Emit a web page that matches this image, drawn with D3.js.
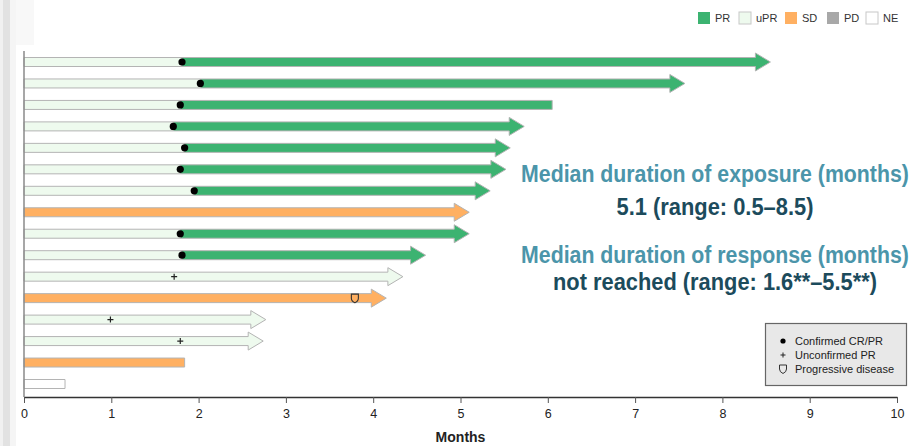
<!DOCTYPE html>
<html>
<head>
<meta charset="utf-8">
<script src="https://cdn.jsdelivr.net/npm/d3@7"></script>
<style>
  html, body { margin: 0; padding: 0; background: #fff; }
  svg { display: block; }
  .narrow { font-family: "Liberation Sans Narrow", "Arial Narrow", "Liberation Sans", Arial, sans-serif; }
</style>
</head>
<body>
<svg id="chart" width="918" height="446"></svg>
<script>
// Patient-level swimmer data (one row per patient, top to bottom)
const patients   = d3.range(1, 17);
const bestResp   = ["PR","PR","PR","PR","PR","PR","PR","SD","PR","PR","uPR","SD","uPR","uPR","SD","NE"];
const exposure   = [8.55, 7.57, 6.05, 5.73, 5.57, 5.52, 5.34, 5.10, 5.10, 4.60, 4.34, 4.15, 2.77, 2.74, 1.84, 0.47];
const ongoing    = [true, true, false, true, true, true, true, true, true, true, true, true, true, true, false, false];
const respOnset  = [1.81, 2.02, 1.79, 1.71, 1.84, 1.79, 1.95, null, 1.79, 1.81, 1.72, null, 0.99, 1.79, null, null];
const pdTime     = [null, null, null, null, null, null, null, null, null, null, null, 3.79, null, null, null, null];

const monthTicks = [0, 1, 2, 3, 4, 5, 6, 7, 8, 9, 10];
const legendKeys = ["PR", "uPR", "SD", "PD", "NE"];
const legendColors = ["#3cb371", "#eefaee", "#ffb062", "#a8a8a8", "#ffffff"];
const markerLabels = ["Confirmed CR/PR", "Unconfirmed PR", "Progressive disease"];

const fillOf = k => legendColors[legendKeys.indexOf(k)];

const svg = d3.select("#chart");

// light frame strip on the left edge
svg.append("rect").attr("x", 0).attr("y", 0).attr("width", 3).attr("height", 446).attr("fill", "#f1f1f1");
svg.append("rect").attr("x", 3).attr("y", 0).attr("width", 7).attr("height", 446).attr("fill", "#e2e2e2");
svg.append("rect").attr("x", 10).attr("y", 0).attr("width", 6).attr("height", 446).attr("fill", "#f5f5f5");
svg.append("rect").attr("x", 16).attr("y", 0).attr("width", 18).attr("height", 45).attr("fill", "#f8f8f8");

const x = d3.scaleLinear().domain([0, 10]).range([24, 897]);
const y = d3.scalePoint().domain(patients).range([62, 384]);

const bodyH = 4.5, headH = 9, headL = 15;

function barPath(x0, x1, yc, head) {
  if (!head) {
    return `M${x0},${yc - bodyH}H${x1}V${yc + bodyH}H${x0}Z`;
  }
  const xb = x1 - headL;
  return `M${x0},${yc - bodyH}H${xb}V${yc - headH}L${x1},${yc}L${xb},${yc + headH}V${yc + bodyH}H${x0}Z`;
}

const rows = patients.map((p, i) => ({
  p, resp: bestResp[i], end: exposure[i], ongoing: ongoing[i],
  onset: respOnset[i], pd: pdTime[i]
}));

const bars = svg.append("g");

rows.forEach(r => {
  const yc = y(r.p);
  const x0 = x(0), x1 = x(r.end);
  if (r.resp === "PR") {
    // unconfirmed period before confirmation, then the confirmed response
    bars.append("path")
      .attr("d", barPath(x0, x(r.onset), yc, false))
      .attr("fill", fillOf("uPR")).attr("stroke", "#b4b4b4").attr("stroke-width", 1);
    bars.append("path")
      .attr("d", barPath(x(r.onset), x1, yc, r.ongoing))
      .attr("fill", fillOf("PR")).attr("stroke", "#b4b4b4").attr("stroke-width", 1);
  } else {
    bars.append("path")
      .attr("d", barPath(x0, x1, yc, r.ongoing))
      .attr("fill", fillOf(r.resp)).attr("stroke", "#b4b4b4").attr("stroke-width", 1);
  }
});

// y axis line
svg.append("line")
  .attr("x1", x(0)).attr("x2", x(0)).attr("y1", 51).attr("y2", 397)
  .attr("stroke", "#8a8a8a").attr("stroke-width", 1.5);

// markers
function shieldPath(cx, cy) {
  return `M${cx - 3.5},${cy - 4}H${cx + 3.5}V${cy}Q${cx + 3.5},${cy + 3} ${cx},${cy + 4.5}Q${cx - 3.5},${cy + 3} ${cx - 3.5},${cy}Z`;
}
function plusPath(cx, cy, s) {
  return `M${cx - s},${cy}H${cx + s}M${cx},${cy - s}V${cy + s}`;
}

const marks = svg.append("g");
rows.forEach(r => {
  const yc = y(r.p);
  if (r.resp === "PR") {
    marks.append("circle").attr("cx", x(r.onset)).attr("cy", yc).attr("r", 3.6).attr("fill", "#000");
  } else if (r.onset != null) {
    marks.append("path").attr("d", plusPath(x(r.onset), yc, 3))
      .attr("stroke", "#222").attr("stroke-width", 1.2).attr("fill", "none");
  }
  if (r.pd != null) {
    marks.append("path").attr("d", shieldPath(x(r.pd), yc))
      .attr("stroke", "#333").attr("stroke-width", 1.1).attr("fill", "none");
  }
});

// x axis
const xAxis = d3.axisBottom(x).tickValues(monthTicks).tickFormat(d3.format("d")).tickSize(6).tickSizeOuter(0);
const gx = svg.append("g").attr("transform", "translate(0,397)").call(xAxis);
gx.select(".domain").attr("stroke", "#333").attr("stroke-width", 1.5);
gx.selectAll(".tick line").attr("stroke", "#555");
gx.selectAll(".tick text").attr("class", "narrow").attr("font-size", 12.5).attr("fill", "#222").attr("dy", "0.95em");

svg.append("text").attr("class", "narrow")
  .attr("x", x(5)).attr("y", 442).attr("text-anchor", "middle")
  .attr("font-size", 14).attr("font-weight", "bold").attr("fill", "#222")
  .text("Months");

// response legend at top
const legendX = [698, 739, 785, 827, 866];
const lg = svg.append("g");
legendKeys.forEach((k, i) => {
  lg.append("rect").attr("x", legendX[i]).attr("y", 12).attr("width", 12).attr("height", 12)
    .attr("fill", legendColors[i]).attr("stroke", k === "PR" || k === "SD" || k === "PD" ? "none" : "#c8c8c8");
  lg.append("text").attr("class", "narrow")
    .attr("x", legendX[i] + 17).attr("y", 22).attr("font-size", 11).attr("fill", "#333").text(k);
});

// marker legend box
const mb = svg.append("g");
mb.append("rect").attr("x", 765.5).attr("y", 323.5).attr("width", 141).attr("height", 62)
  .attr("fill", "#e8e8e8").attr("stroke", "#666").attr("stroke-width", 1.2);
const mY = [341, 355, 369];
mb.append("circle").attr("cx", 783).attr("cy", mY[0]).attr("r", 2.6).attr("fill", "#000");
mb.append("path").attr("d", plusPath(783, mY[1], 2.5)).attr("stroke", "#222").attr("stroke-width", 1).attr("fill", "none");
mb.append("path").attr("d", shieldPath(783, mY[2])).attr("stroke", "#333").attr("stroke-width", 1).attr("fill", "none");
markerLabels.forEach((t, i) => {
  mb.append("text").attr("class", "narrow").attr("x", 795).attr("y", mY[i] + 3.8)
    .attr("font-size", 11).attr("fill", "#222").text(t);
});

// summary statistics, each line horizontally fitted to its width
const headColor = "#4b95aa", valColor = "#1c4b5c";
const summary = [
  { t: "Median duration of exposure (months)", y: 182, c: headColor, w: 388 },
  { t: "5.1 (range: 0.5\u20138.5)", y: 215, c: valColor, w: 197 },
  { t: "Median duration of response (months)", y: 263, c: headColor, w: 388 },
  { t: "not reached (range: 1.6**\u20135.5**)", y: 290, c: valColor, w: 324 }
];
summary.forEach(s => {
  const g = svg.append("g");
  const t = g.append("text").attr("class", "narrow")
    .attr("x", 0).attr("y", 0).attr("text-anchor", "middle")
    .attr("font-size", 24).attr("font-weight", "bold").attr("fill", s.c)
    .text(s.t);
  const natural = t.node().getComputedTextLength();
  g.attr("transform", `translate(715,${s.y}) scale(${s.w / natural},1)`);
});
</script>
</body>
</html>
